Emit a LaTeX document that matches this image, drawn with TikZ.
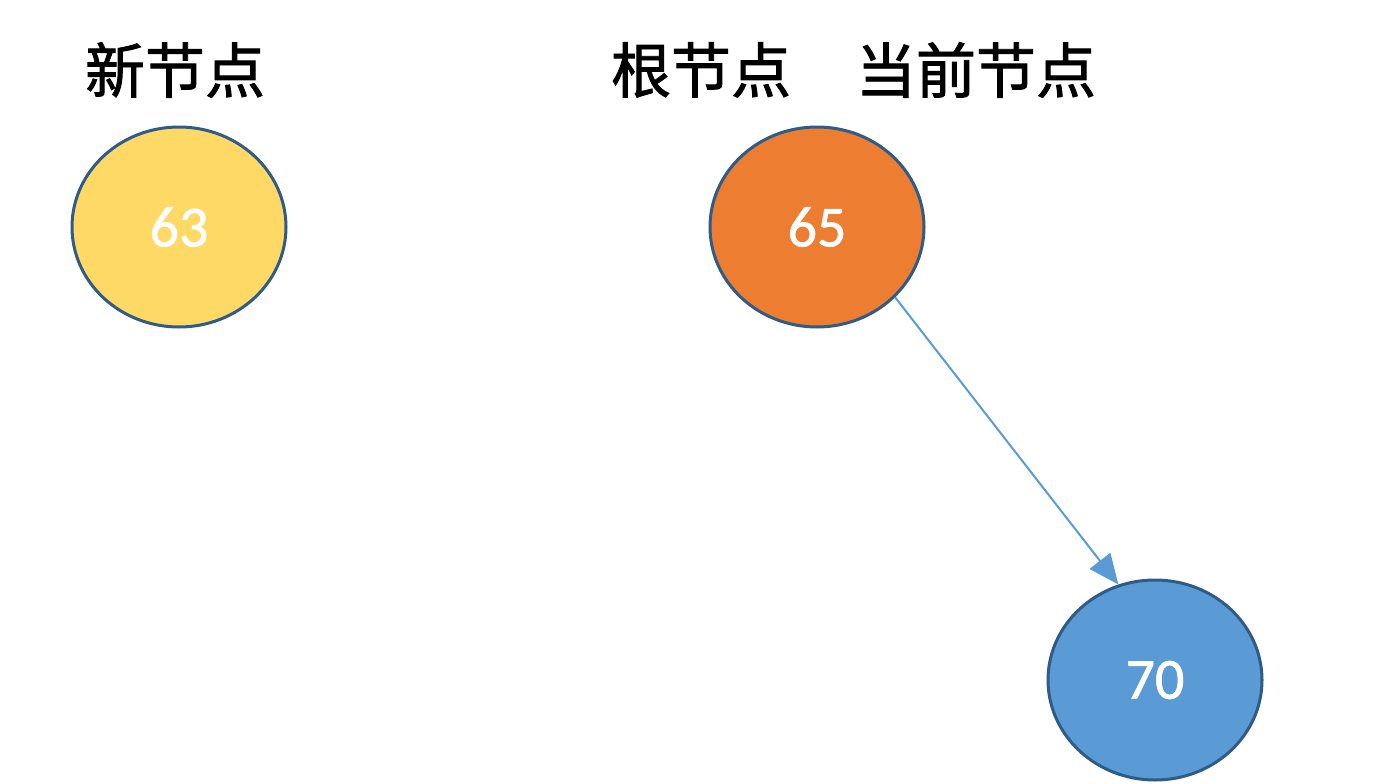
\documentclass[tikz,border=0pt]{standalone}
\usepackage{fontspec}
\setmainfont{Carlito}
\newfontfamily\numfont[FakeBold=1.2]{Carlito}
\newfontfamily\cjk[FakeBold=1.5]{Noto Sans CJK SC}
\usetikzlibrary{shapes.geometric,arrows.meta}
\definecolor{nodeyellow}{HTML}{FFD966}
\definecolor{nodeorange}{HTML}{ED7D31}
\definecolor{nodeblue}{HTML}{5B9BD5}
\definecolor{rimblue}{HTML}{2E5B87}
\tikzset{
  treenode/.style={ellipse, draw=rimblue, line width=3pt, minimum width=214pt, minimum height=200pt, inner sep=0pt, text=white, font=\numfont\fontsize{58}{58}\selectfont},
  caption/.style={font=\cjk\fontsize{60}{60}\selectfont, text=black, inner sep=0pt},
  link/.style={draw=nodeblue, line width=2pt, -{Triangle[length=30pt,width=26pt]}}
}
\begin{document}
\begin{tikzpicture}[x=1pt,y=-1pt]
\useasboundingbox[fill=white] (0,0) rectangle (1373,784);
\node[caption] (lnew) at (175,70) {新节点};
\node[caption] (lroot) at (701,70) {根节点};
\node[caption] (lcur) at (976,70) {当前节点};
\node[treenode, fill=nodeyellow] (n63) at (179,227) {63};
\node[treenode, fill=nodeorange] (n65) at (817,227) {65};
\node[treenode, fill=nodeblue] (n70) at (1155,680) {70};
\draw[link] (n65.-42) -- (n70.111);
\end{tikzpicture}
\end{document}
